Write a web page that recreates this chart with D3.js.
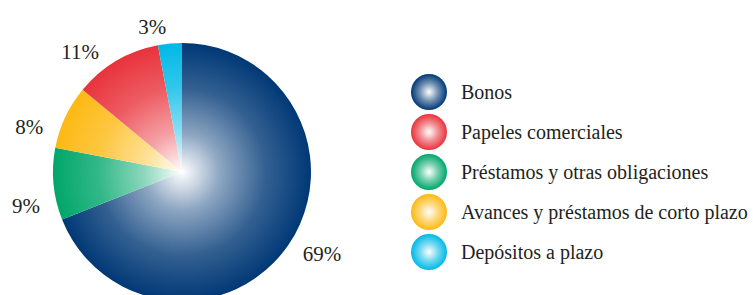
<!DOCTYPE html>
<html>
<head>
<meta charset="utf-8">
<script src="https://cdn.jsdelivr.net/npm/d3@7"></script>
<style>
  body { margin: 0; background: #fff; }
  text { font-family: "Liberation Serif", "Times New Roman", serif; fill: #231f20; }
</style>
</head>
<body>
<div id="chart"></div>
<script>
// values (percent of total)
var categories = ["Bonos", "Préstamos y otras obligaciones", "Avances y préstamos de corto plazo", "Papeles comerciales", "Depósitos a plazo"];
var values = [69, 9, 8, 11, 3];
var colors = ["#003876", "#00a66a", "#fdb913", "#e8333c", "#00b9e6"];
var legendOrder = ["Bonos", "Papeles comerciales", "Préstamos y otras obligaciones", "Avances y préstamos de corto plazo", "Depósitos a plazo"];

var totalWidth = 753, totalHeight = 295,
    cx = 182, cy = 172, radius = 129, labelRadius = 146;

var svg = d3.select("#chart").append("svg")
    .attr("width", totalWidth)
    .attr("height", totalHeight);

var defs = svg.append("defs");
var data = categories.map(function(c, i) { return {name: c, value: values[i], color: colors[i], id: i}; });

// gradients: white in the middle, full colour at the rim
data.forEach(function(d) {
  var mix = d3.interpolateRgb("#ffffff", d.color);
  var g = defs.append("radialGradient")
      .attr("id", "pie" + d.id)
      .attr("gradientUnits", "userSpaceOnUse")
      .attr("cx", 0).attr("cy", 0).attr("r", radius);
  [[0, 0], [0.3, 0.45], [0.65, 0.8], [1, 1]].forEach(function(s) {
    g.append("stop").attr("offset", s[0]).attr("stop-color", mix(s[1]));
  });
  var b = defs.append("radialGradient").attr("id", "ball" + d.id);
  [[0, 0], [0.5, 0.55], [1, 1]].forEach(function(s) {
    b.append("stop").attr("offset", s[0]).attr("stop-color", mix(s[1]));
  });
});

var pie = d3.pie().sort(null).value(function(d) { return d.value; });
var arc = d3.arc().innerRadius(0).outerRadius(radius);

// label angle: mid angle, left-hand labels leaning a bit upward
function labelAngle(d) {
  var m = (d.startAngle + d.endAngle) / 2;
  return m - (8 * Math.PI / 180) * Math.max(0, -Math.sin(m));
}

var g = svg.append("g").attr("transform", "translate(" + cx + "," + cy + ")");

g.selectAll("path")
  .data(pie(data))
  .enter()
  .append("path")
    .attr("d", arc)
    .style("fill", function(d) { return "url(#pie" + d.data.id + ")"; });

g.selectAll("text.pct")
  .data(pie(data))
  .enter()
  .append("text")
    .attr("class", "pct")
    .attr("x", function(d) { return Math.sin(labelAngle(d)) * labelRadius; })
    .attr("y", function(d) { return -Math.cos(labelAngle(d)) * labelRadius; })
    .attr("dy", "0.35em")
    .attr("text-anchor", function(d) { return Math.sin(labelAngle(d)) < 0 ? "end" : "start"; })
    .style("font-size", "21px")
    .text(function(d) { return d.value + "%"; });

// legend
var y_scale = d3.scalePoint().domain(legendOrder).range([92, 252]);
var colorOf = {};
data.forEach(function(d) { colorOf[d.name] = d.id; });

var legend = svg.append("g").selectAll("g")
  .data(legendOrder)
  .enter()
  .append("g")
    .attr("transform", function(d) { return "translate(429," + y_scale(d) + ")"; });

legend.append("circle")
  .attr("r", 18)
  .style("fill", function(d) { return "url(#ball" + colorOf[d] + ")"; });

legend.append("text")
  .attr("x", 32)
  .attr("dy", "0.35em")
  .style("font-size", "20px")
  .text(function(d) { return d; });
</script>
</body>
</html>
